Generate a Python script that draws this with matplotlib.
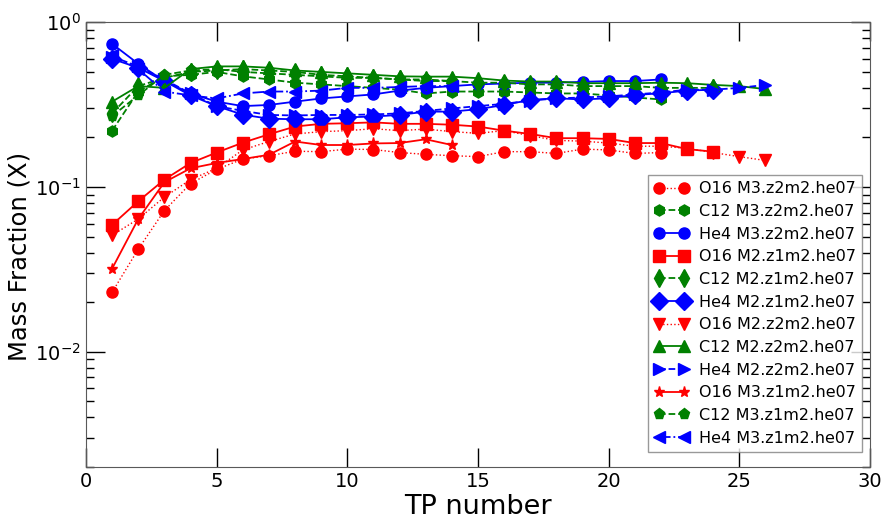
import matplotlib
matplotlib.use("Agg")
import matplotlib.pyplot as plt

# TP numbers (x axis)
tp = [1, 2, 3, 4, 5, 6, 7, 8, 9, 10, 11, 12, 13, 14, 15, 16, 17, 18, 19, 20,
      21, 22, 23, 24, 25, 26]

# mass fractions
o16_m3z2 = [0.023, 0.042, 0.072, 0.105, 0.128, 0.148, 0.155, 0.165, 0.164, 0.170, 0.169,
            0.162, 0.158, 0.155, 0.153, 0.164, 0.164, 0.160, 0.170, 0.168, 0.160, 0.162]
c12_m3z2 = [0.22, 0.38, 0.47, 0.48, 0.50, 0.47, 0.45, 0.43, 0.42, 0.41, 0.40,
            0.39, 0.37, 0.38, 0.38, 0.38, 0.375, 0.37, 0.37, 0.36, 0.35, 0.34]
he4_m3z2 = [0.74, 0.56, 0.44, 0.37, 0.33, 0.31, 0.315, 0.33, 0.345, 0.355, 0.365,
            0.385, 0.40, 0.41, 0.42, 0.425, 0.43, 0.43, 0.435, 0.44, 0.44, 0.45]

o16_m2z1 = [0.059, 0.082, 0.111, 0.140, 0.162, 0.186, 0.209, 0.233, 0.242, 0.244, 0.247, 0.242,
            0.242, 0.239, 0.233, 0.220, 0.210, 0.198, 0.198, 0.196, 0.185, 0.185, 0.170, 0.164]
c12_m2z1 = [0.28, 0.41, 0.46, 0.50, 0.51, 0.52, 0.51, 0.50, 0.48, 0.47, 0.46, 0.45,
            0.44, 0.44, 0.43, 0.43, 0.42, 0.42, 0.41, 0.41, 0.41, 0.40, 0.40, 0.40]
he4_m2z1 = [0.60, 0.53, 0.44, 0.36, 0.31, 0.275, 0.26, 0.258, 0.258, 0.265, 0.268, 0.274,
            0.287, 0.287, 0.297, 0.315, 0.338, 0.346, 0.34, 0.346, 0.362, 0.371, 0.385, 0.39]

o16_m2z2 = [0.051, 0.064, 0.087, 0.111, 0.130, 0.168, 0.189, 0.210, 0.217, 0.220, 0.226, 0.220, 0.225,
            0.217, 0.212, 0.220, 0.205, 0.192, 0.190, 0.185, 0.177, 0.177, 0.172, 0.162, 0.153, 0.145]
c12_m2z2 = [0.33, 0.41, 0.40, 0.52, 0.54, 0.54, 0.53, 0.51, 0.50, 0.49, 0.48, 0.47, 0.468,
            0.468, 0.458, 0.443, 0.437, 0.437, 0.427, 0.427, 0.427, 0.43, 0.427, 0.417, 0.41, 0.393]
he4_m2z2 = [0.62, 0.54, 0.45, 0.37, 0.31, 0.29, 0.274, 0.272, 0.274, 0.274, 0.276, 0.28, 0.29,
            0.30, 0.31, 0.32, 0.335, 0.345, 0.35, 0.355, 0.365, 0.375, 0.39, 0.39, 0.40, 0.417]

o16_m3z1 = [0.032, 0.064, 0.107, 0.130, 0.140, 0.148, 0.157, 0.189, 0.180, 0.180, 0.184, 0.185, 0.195, 0.180]
c12_m3z1 = [0.27, 0.36, 0.48, 0.51, 0.52, 0.50, 0.49, 0.48, 0.47, 0.46, 0.46, 0.45, 0.45, 0.44]
he4_m3z1 = [0.63, 0.52, 0.38, 0.36, 0.345, 0.37, 0.38, 0.38, 0.385, 0.40, 0.40, 0.405, 0.41, 0.41]

labels = ["O16 M3.z2m2.he07", "C12 M3.z2m2.he07", "He4 M3.z2m2.he07",
          "O16 M2.z1m2.he07", "C12 M2.z1m2.he07", "He4 M2.z1m2.he07",
          "O16 M2.z2m2.he07", "C12 M2.z2m2.he07", "He4 M2.z2m2.he07",
          "O16 M3.z1m2.he07", "C12 M3.z1m2.he07", "He4 M3.z1m2.he07"]
series = [o16_m3z2, c12_m3z2, he4_m3z2,
          o16_m2z1, c12_m2z1, he4_m2z1,
          o16_m2z2, c12_m2z2, he4_m2z2,
          o16_m3z1, c12_m3z1, he4_m3z1]

# style per series: colour, marker, linestyle, markersize
styles = [("r", "o", ":", 8), ("g", "h", "--", 8), ("b", "o", "-", 8),
          ("r", "s", "-", 8), ("g", "d", "--", 9), ("b", "D", "-", 9),
          ("r", "v", ":", 8), ("g", "^", "-", 8), ("b", ">", "--", 8),
          ("r", "*", "-", 8), ("g", "p", "--", 8), ("b", "<", "-.", 8)]

fig = plt.figure(figsize=(8.81, 5.21), dpi=100)
ax = fig.add_axes([0.0976, 0.1036, 0.8899, 0.8536])

for lab, vals, (c, m, ls, ms) in zip(labels, series, styles):
    lw = 1.0 if ls == ":" else 1.3
    ax.plot(tp[:len(vals)], vals, color=c, marker=m, linestyle=ls, markersize=ms,
            markeredgecolor=c, linewidth=lw, label=lab)

ax.set_yscale("log")
ax.set_xlim(0, 30)
ax.set_ylim(0.002, 1)
ax.set_xticks([0, 5, 10, 15, 20, 25, 30])

ax.tick_params(which="both", direction="in", top=True, right=True, labelsize=14)
ax.tick_params(which="major", length=14, width=1)
ax.tick_params(which="minor", length=6, width=1)
for sp in ax.spines.values():
    sp.set_color("0.35")

ax.set_xlabel("TP number", fontsize=19.5, labelpad=2)
ax.set_ylabel("Mass Fraction (X)", fontsize=17.5)
ax.yaxis.set_label_coords(-0.07, 0.474)

leg = ax.legend(loc="lower right", bbox_to_anchor=(0.99, 0.034), borderaxespad=0,
                numpoints=2, fontsize=11.5, fancybox=False, labelspacing=0.48,
                handlelength=2.2, handletextpad=0.6)
leg.get_frame().set_edgecolor("0.5")

fig.savefig("out.png", dpi=100)
